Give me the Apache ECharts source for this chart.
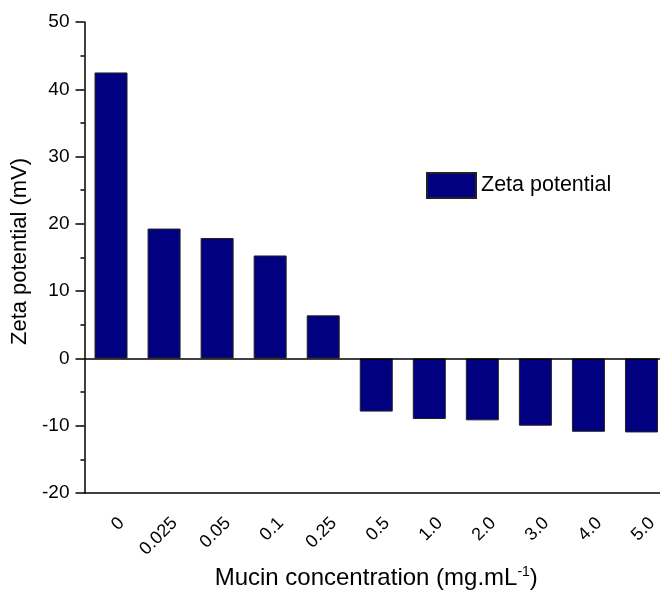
<!DOCTYPE html>
<html>
<head>
<meta charset="utf-8">
<script src="https://cdn.jsdelivr.net/npm/echarts@6/dist/echarts.min.js"></script>
<style>
  html, body { margin: 0; padding: 0; background: #fff; }
  #chart { width: 660px; height: 593px; }
</style>
</head>
<body>
<div id="chart"></div>
<script>
// 数据
var concentrations = ['0', '0.025', '0.05', '0.1', '0.25', '0.5', '1.0', '2.0', '3.0', '4.0', '5.0'];
var zetaValues = [42.5, 19.3, 17.9, 15.3, 6.4, -7.9, -9.0, -9.2, -10.0, -10.9, -11.0];
var seriesName = 'Zeta potential';

var font = 'Liberation Sans, Arial, sans-serif';
var myChart = echarts.init(document.getElementById('chart'));

myChart.setOption({
    animation: false,
    grid: {
        left: 84.5,
        right: -8,
        top: 22,
        bottom: 100,
        outerBoundsMode: 'none'
    },
    legend: {
        left: 421,
        top: 167,
        icon: 'rect',
        itemWidth: 49,
        itemHeight: 25,
        textStyle: { fontFamily: font, fontSize: 21.5, color: '#000' },
        data: [seriesName]
    },
    xAxis: {
        type: 'category',
        data: concentrations,
        name: 'Mucin concentration (mg.mL{sup|-1})',
        nameLocation: 'middle',
        nameGap: 70,
        nameTextStyle: {
            fontFamily: font, fontSize: 24, color: '#000',
            rich: {
                sup: { fontFamily: font, fontSize: 14, color: '#000', verticalAlign: 'top', padding: [0, 0, 12, 0] }
            }
        },
        axisLine: { onZero: false, lineStyle: { color: '#000', width: 1.5 } },
        axisTick: { alignWithLabel: true, length: 8, lineStyle: { color: '#000', width: 1.5 } },
        axisLabel: {
            rotate: 45, margin: 38, align: 'right', verticalAlign: 'middle',
            padding: [0, -15, 0, 0],
            fontFamily: font, fontSize: 18, color: '#000'
        }
    },
    yAxis: {
        type: 'value',
        min: -20,
        max: 50,
        interval: 10,
        name: 'Zeta potential (mV)',
        nameLocation: 'middle',
        nameGap: 44,
        nameTextStyle: { fontFamily: font, fontSize: 22, color: '#000', padding: [0, 0, 0, 12] },
        axisLine: { show: true, lineStyle: { color: '#000', width: 1.5 } },
        axisTick: { show: true, length: 9, lineStyle: { color: '#000', width: 1.5 } },
        minorTick: { show: true, splitNumber: 2, length: 4, lineStyle: { color: '#000', width: 1.5 } },
        splitLine: { show: false },
        axisLabel: { margin: 15, fontFamily: font, fontSize: 19, color: '#000' }
    },
    series: [{
        name: seriesName,
        type: 'bar',
        data: zetaValues,
        barWidth: 33,
        itemStyle: { color: '#000080', borderColor: '#222', borderWidth: 1 },
        markLine: {
            silent: true,
            symbol: 'none',
            label: { show: false },
            lineStyle: { color: '#000', width: 1.5, type: 'solid' },
            data: [{ yAxis: 0 }]
        }
    }]
});
</script>
</body>
</html>
